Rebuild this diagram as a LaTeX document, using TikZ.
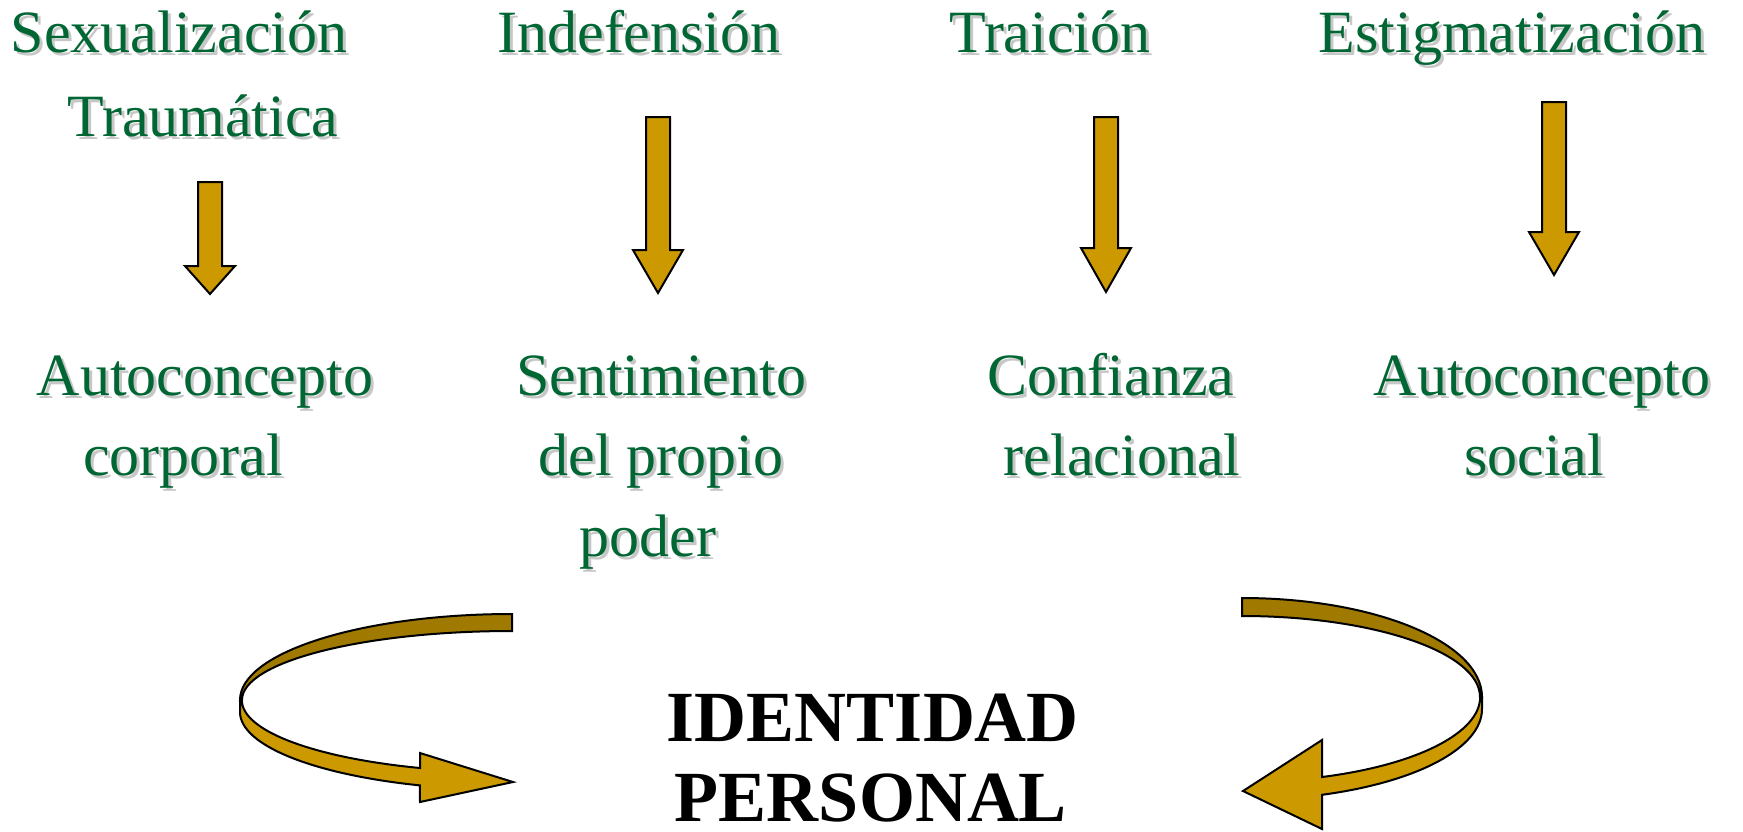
\documentclass[tikz,border=0pt]{standalone}
\usepackage{fontspec}
\setmainfont{Liberation Serif}
\usetikzlibrary{positioning}

\definecolor{leafgreen}{RGB}{0,102,51}
\definecolor{gold}{RGB}{204,153,0}
\definecolor{darkgold}{RGB}{160,122,0}

% green label with a soft grey shadow behind it
\newcommand{\tlabel}[4]{%
  \node[shadowlabel] at (#2+3,#3+3) {#4};
  \node[greenlabel] (#1) at (#2,#3) {#4};}

% block arrow pointing down: centre x, top, head base, tip
\newcommand{\blockdown}[4]{%
  \draw[blockarrow] (#1-12,#2) -- (#1+12,#2) -- (#1+12,#3) -- (#1+25,#3)
    -- (#1,#4) -- (#1-25,#3) -- (#1-12,#3) -- cycle;}

\begin{document}
\begin{tikzpicture}[
    x=1pt, y=-1pt,
    greenlabel/.style={text=leafgreen, inner sep=0pt, anchor=base, font=\fontsize{60}{72}\selectfont},
    shadowlabel/.style={text=black!22, inner sep=0pt, anchor=base, font=\fontsize{60}{72}\selectfont},
    titlelabel/.style={text=black, inner sep=0pt, anchor=base, font=\fontsize{72}{86}\selectfont\bfseries},
    blockarrow/.style={fill=gold, draw=black, line width=2pt, line join=miter},
    backband/.style={fill=darkgold, draw=black, line width=2pt},
    frontband/.style={fill=gold, draw=black, line width=2pt, line join=miter}
]

    % Canvas
    \fill[white] (0,0) rectangle (1743,831);
    \useasboundingbox (0,0) rectangle (1743,831);

    % Top row: the four dynamics
    \tlabel{sexual}{179}{52}{Sexualización}
    \tlabel{traum}{203}{136}{Traumática}
    \tlabel{indef}{639}{52}{Indefensión}
    \tlabel{traic}{1050}{52}{Traición}
    \tlabel{estig}{1512}{52}{Estigmatización}

    % Down arrows
    \blockdown{210}{182}{266}{294}
    \blockdown{658}{117}{250}{293}
    \blockdown{1106}{117}{248}{292}
    \blockdown{1554}{102}{232}{275}

    % Second row: what each one damages
    \tlabel{autoL}{205}{395}{Autoconcepto}
    \tlabel{corp}{183}{475}{corporal}
    \tlabel{senti}{661}{395}{Sentimiento}
    \tlabel{propio}{661}{475}{del propio}
    \tlabel{poder}{648}{556}{poder}
    \tlabel{confi}{1111}{395}{Confianza}
    \tlabel{relac}{1122}{475}{relacional}
    \tlabel{autoR}{1542}{395}{Autoconcepto}
    \tlabel{social}{1534}{475}{social}

    % Title
    \node[titlelabel] (ident) at (873,741) {IDENTIDAD};
    \node[titlelabel] (person) at (871,821) {PERSONAL};

    % Left curved arrow
    \draw[backband] (512,614) arc[start angle=270, end angle=180, x radius=272, y radius=86]
        -- (242,700) arc[start angle=180, end angle=270, x radius=270, y radius=69] -- cycle;
    \draw[frontband] (240,700) -- (240,712)
        arc[start angle=180, end angle=109.8, x radius=272, y radius=78]
        -- (420,802) -- (513,782) -- (420,753) -- (420,768)
        arc[start angle=109.9, end angle=180, x radius=270, y radius=72] -- cycle;

    % Right curved arrow
    \draw[backband] (1242,598) arc[start angle=270, end angle=360, x radius=240, y radius=99]
        -- (1480,697) arc[start angle=0, end angle=-90, x radius=238, y radius=81] -- cycle;
    \draw[frontband] (1482,697) -- (1482,709)
        arc[start angle=0, end angle=70.5, x radius=240, y radius=91]
        -- (1322,829) -- (1243,791) -- (1322,740) -- (1322,777)
        arc[start angle=70.4, end angle=0, x radius=238, y radius=85] -- cycle;

\end{tikzpicture}
\end{document}
